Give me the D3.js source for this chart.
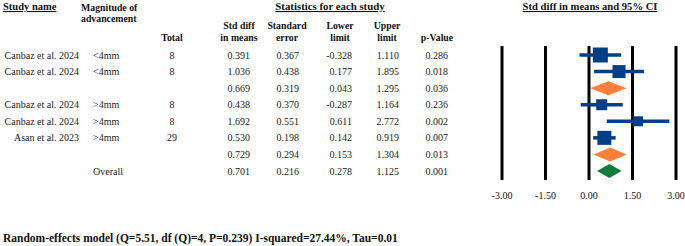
<!DOCTYPE html>
<html lang="en">
<head>
<meta charset="UTF-8">
<title>Forest plot</title>
<script src="https://d3js.org/d3.v7.min.js"></script>
<style>
  body { margin: 0; background: #fff; }
  svg text { font-family: "Liberation Serif", "Times New Roman", serif; }
</style>
</head>
<body>
<div id="chart"></div>
<script>
// rows of the table, top to bottom
const studyNames = ["Canbaz et al. 2024", "Canbaz et al. 2024", "", "Canbaz et al. 2024", "Canbaz et al. 2024", "Asan et al. 2023", "", ""];
const magnitude  = ["<4mm", "<4mm", "", ">4mm", ">4mm", ">4mm", "", "Overall"];
const rowType    = ["study", "study", "subgroup", "study", "study", "study", "subgroup", "overall"];
const totals     = [8, 8, null, 8, 8, 29, null, null];
const stdDiff    = [0.391, 1.036, 0.669, 0.438, 1.692, 0.530, 0.729, 0.701];
const stdErr     = [0.367, 0.438, 0.319, 0.370, 0.551, 0.198, 0.294, 0.216];
const lowerLim   = [-0.328, 0.177, 0.043, -0.287, 0.611, 0.142, 0.153, 0.278];
const upperLim   = [1.110, 1.895, 1.295, 1.164, 2.772, 0.919, 1.304, 1.125];
const pValue     = [0.286, 0.018, 0.036, 0.236, 0.002, 0.007, 0.013, 0.001];
// relative weights (box size)
const weights    = [27.7, 20.8, null, 14.9, 12.3, 24.2, null, null];
const axisTicks  = [-3, -1.5, 0, 1.5, 3];
const footnote = "Random-effects model (Q=5.51, df (Q)=4, P=0.239) I-squared=27.44%, Tau=0.01";

const W = 685, H = 246;
const svg = d3.select("#chart").append("svg")
  .attr("width", W).attr("height", H);

const rows = d3.range(stdDiff.length);
const y = d3.scalePoint().domain(rows).range([55, 171]);
const x = d3.scaleLinear().domain([-3, 3]).range([502, 676]);
const box = d3.scaleSqrt().domain([0, d3.max(weights)]).range([0, 15]);

// plain hyphen for negatives, like the original
const fmt = v => d3.format(".3f")(v).replace("\u2212", "-");

// ---- headers
const hdr = svg.append("g").attr("font-weight", "bold").attr("fill", "#111");
hdr.append("text").attr("x", 3).attr("y", 10).attr("font-size", 10.5).text("Study name")
  .style("text-decoration", "underline");
hdr.append("text").attr("x", 81).attr("y", 11).attr("font-size", 9.8).text("Magnitude of");
hdr.append("text").attr("x", 81).attr("y", 22).attr("font-size", 9.8).text("advancement");
hdr.append("text").attr("x", 330).attr("y", 10).attr("text-anchor", "middle").attr("font-size", 10.8)
  .text("Statistics for each study").style("text-decoration", "underline");
hdr.append("text").attr("x", 590).attr("y", 10).attr("text-anchor", "middle").attr("font-size", 10.6)
  .text("Std diff in means and 95% CI").style("text-decoration", "underline");

const colHeads = [
  {x: 172, l1: "", l2: "Total"},
  {x: 239, l1: "Std diff", l2: "in means"},
  {x: 287, l1: "Standard", l2: "error"},
  {x: 340, l1: "Lower", l2: "limit"},
  {x: 387, l1: "Upper", l2: "limit"},
  {x: 437, l1: "", l2: "p-Value"}
];
colHeads.forEach(c => {
  hdr.append("text").attr("x", c.x).attr("y", 28.5).attr("font-size", 9.8)
    .attr("text-anchor", "middle").text(c.l1);
  hdr.append("text").attr("x", c.x).attr("y", 40.5).attr("font-size", 9.8)
    .attr("text-anchor", "middle").text(c.l2);
});

// ---- table body
const body = svg.append("g").attr("font-size", 10).attr("fill", "#222");
const cell = (xPos, anchor, vals) => body.selectAll(null)
  .data(rows).join("text")
  .attr("x", xPos).attr("y", d => y(d) + 3.5)
  .attr("text-anchor", anchor)
  .text(d => vals(d));

cell(79, "end", d => studyNames[d]);
cell(93, "start", d => magnitude[d]);
cell(172, "middle", d => totals[d] == null ? "" : totals[d]);
cell(250, "end", d => fmt(stdDiff[d]));
cell(299, "end", d => fmt(stdErr[d]));
cell(352, "end", d => fmt(lowerLim[d]));
cell(399, "end", d => fmt(upperLim[d]));
cell(448, "end", d => fmt(pValue[d]));

// ---- forest plot
const plot = svg.append("g");
plot.selectAll("line.grid").data(axisTicks).join("line")
  .attr("x1", d => x(d)).attr("x2", d => x(d))
  .attr("y1", 46).attr("y2", 180)
  .attr("stroke", "#000").attr("stroke-width", 3);

plot.selectAll("text.tick").data(axisTicks).join("text")
  .attr("x", d => x(d)).attr("y", 198.5)
  .attr("text-anchor", "middle").attr("font-size", 10).attr("fill", "#111")
  .text(d => d3.format(".2f")(d).replace("\u2212", "-"));

const studyRows = rows.filter(i => rowType[i] === "study");
const blue = "#003f87";
plot.selectAll("line.ci").data(studyRows).join("line")
  .attr("x1", d => x(lowerLim[d])).attr("x2", d => x(upperLim[d]))
  .attr("y1", d => y(d)).attr("y2", d => y(d))
  .attr("stroke", blue).attr("stroke-width", 3.5);
plot.selectAll("rect.box").data(studyRows).join("rect")
  .attr("x", d => x(stdDiff[d]) - box(weights[d]) / 2)
  .attr("y", d => y(d) - box(weights[d]) / 2)
  .attr("width", d => box(weights[d]))
  .attr("height", d => box(weights[d]))
  .attr("fill", blue);

const pooledRows = rows.filter(i => rowType[i] !== "study");
plot.selectAll("path.diamond").data(pooledRows).join("path")
  .attr("d", d => {
    const yc = y(d), h = 7;
    return `M${x(lowerLim[d])},${yc} L${x(stdDiff[d])},${yc - h} L${x(upperLim[d])},${yc} L${x(stdDiff[d])},${yc + h} Z`;
  })
  .attr("fill", d => rowType[d] === "overall" ? "#137a3e" : "#ff7f3c");

// ---- footnote
svg.append("text").attr("x", 3).attr("y", 242)
  .attr("font-size", 11.5).attr("font-weight", "bold").attr("fill", "#111")
  .text(footnote);
</script>
</body>
</html>
